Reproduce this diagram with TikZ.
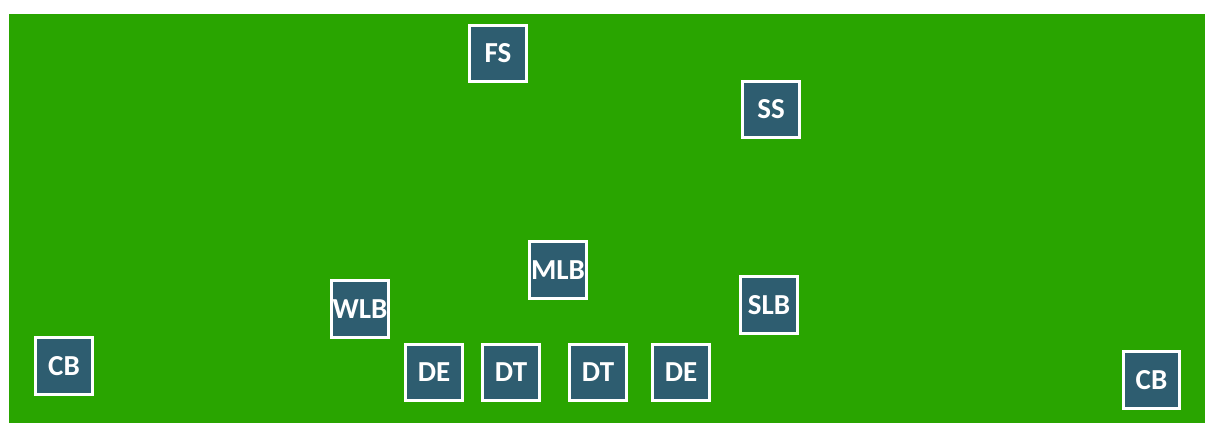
\documentclass[tikz,border=0pt]{standalone}
\usepackage{fontspec}
\setmainfont{Carlito}
\definecolor{fieldgreen}{RGB}{41,165,0}
\definecolor{playerblue}{RGB}{46,93,112}
\begin{document}
\begin{tikzpicture}[x=1bp,y=-1bp,
  player/.style={draw=white,line width=3bp,fill=playerblue,text=white,
    minimum size=56.5bp,inner sep=0pt,font=\fontsize{29bp}{29bp}\selectfont\bfseries}]
\useasboundingbox (0,0) rectangle (1214,439);
\fill[fieldgreen] (9,14) rectangle (1204.5,423);
% safeties
\node[player] (fs) at (498,53.5) {FS};
\node[player] (ss) at (771,109.5) {SS};
% linebackers
\node[player] (mlb) at (558,270) {MLB};
\node[player] (slb) at (769,305) {SLB};
\node[player] (wlb) at (360,309) {WLB};
% corners
\node[player] (cbl) at (64,366) {CB};
\node[player] (cbr) at (1151.5,380) {CB};
% line
\foreach \x/\n/\t in {434/del/DE,511/dtl/DT,598/dtr/DT,681/der/DE}
  \node[player] (\n) at (\x,372.5) {\t};
\end{tikzpicture}
\end{document}
